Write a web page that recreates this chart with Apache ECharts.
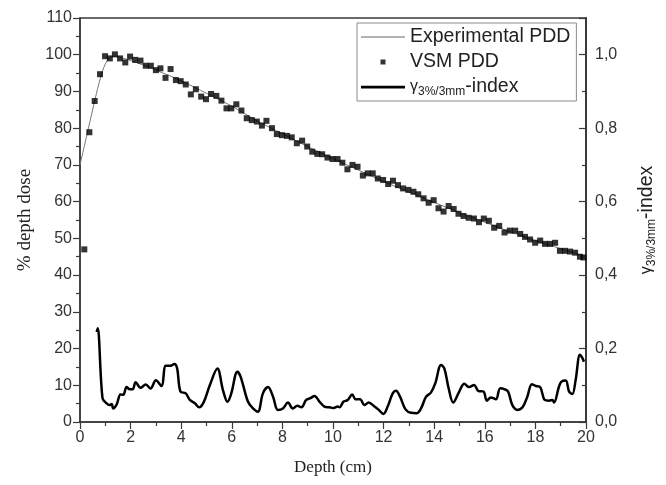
<!DOCTYPE html>
<html>
<head>
<meta charset="utf-8">
<script src="https://cdn.jsdelivr.net/npm/echarts@6/dist/echarts.min.js"></script>
<style>
  html, body { margin: 0; padding: 0; background: #fff; }
  #chart { width: 666px; height: 485px; }
</style>
</head>
<body>
<div id="chart"></div>
<script>
// Experimental PDD (thin line)
const expDepth = [0, 0.2, 0.4, 0.6, 0.8, 1.0, 1.2, 1.4, 1.6, 2.0, 2.5, 3.0, 3.5, 4.0, 5.0, 6.0, 7.0, 8.0, 9.0, 10.0, 11.0, 12.0, 13.0, 14.0, 15.0, 16.0, 17.0, 18.0, 19.0, 20.0]
const expDose = [70, 76, 82, 88, 93.5, 97.5, 99.3, 99.6, 99.3, 98.4, 97.2, 95.8, 94.4, 92.9, 89.5, 86.0, 82.0, 78.5, 75.0, 71.7, 68.6, 65.5, 62.6, 59.8, 57.0, 54.4, 51.8, 49.4, 47.2, 45.0]

// VSM PDD (squares)
const vsmDepth = [0.17, 0.37, 0.58, 0.79, 0.99, 1.18, 1.38, 1.58, 1.79, 1.98, 2.18, 2.39, 2.6, 2.8, 3.0, 3.18, 3.38, 3.58, 3.79, 3.98,
  4.18, 4.38, 4.58, 4.79, 4.98, 5.18, 5.39, 5.59, 5.79, 5.98, 6.18, 6.38, 6.59, 6.79, 6.99, 7.19, 7.37, 7.59, 7.78, 7.98,
  8.18, 8.37, 8.57, 8.78, 8.98, 9.18, 9.38, 9.57, 9.78, 9.98, 10.18, 10.37, 10.57, 10.77, 10.97, 11.18, 11.37, 11.57, 11.77, 11.98,
  12.18, 12.37, 12.57, 12.77, 12.98, 13.18, 13.37, 13.58, 13.78, 13.98, 14.17, 14.37, 14.57, 14.77, 14.96, 15.16, 15.36, 15.57, 15.77, 15.96,
  16.16, 16.37, 16.57, 16.78, 16.99, 17.2, 17.4, 17.59, 17.79, 17.99, 18.19, 18.38, 18.58, 18.78, 18.97, 19.17, 19.37, 19.57, 19.76, 19.9]
const vsmDose = [47.0, 78.9, 87.4, 94.7, 99.6, 99.0, 100.1, 99.0, 97.9, 99.5, 98.6, 98.4, 97.0, 97.0, 95.8, 96.3, 93.7, 96.1, 93.1, 92.8,
  91.9, 89.2, 90.6, 88.6, 87.9, 89.3, 88.8, 87.5, 85.4, 85.4, 86.5, 84.8, 82.7, 82.2, 81.8, 80.7, 82.0, 80.0, 78.4, 78.1,
  77.9, 77.5, 75.9, 76.6, 75.0, 73.6, 73.0, 72.9, 72.0, 71.6, 71.6, 70.6, 68.8, 70.0, 69.5, 67.1, 67.7, 67.7, 66.3, 65.9,
  64.8, 65.7, 64.5, 63.6, 63.2, 62.7, 62.0, 60.9, 59.7, 60.4, 58.2, 57.3, 58.8, 58.0, 56.7, 56.1, 55.6, 55.4, 54.4, 55.4,
  54.8, 52.9, 53.4, 51.6, 52.1, 52.1, 51.2, 50.4, 49.7, 48.8, 49.4, 48.5, 48.5, 48.8, 46.6, 46.6, 46.4, 46.1, 45.0, 44.8]

// gamma 3%/3mm index (thick line, right axis)
const gammaDepth = [0.66, 0.7, 0.89, 1.05, 1.16, 1.25, 1.31, 1.45, 1.6, 1.71, 1.84, 1.97, 2.08, 2.2, 2.39, 2.6, 2.79, 3.0, 3.22, 3.39,
  3.58, 3.73, 3.84, 3.97, 4.18, 4.34, 4.54, 4.71, 4.89, 5.13, 5.43, 5.65, 5.83, 5.98, 6.22, 6.35, 6.64, 6.84, 7.03, 7.23,
  7.43, 7.63, 7.82, 8.02, 8.22, 8.41, 8.59, 8.75, 8.94, 9.11, 9.27, 9.47, 9.66, 9.86, 10.0, 10.19, 10.26, 10.41, 10.58, 10.76,
  10.89, 11.07, 11.24, 11.41, 11.64, 11.81, 11.99, 12.16, 12.36, 12.49, 12.65, 12.86, 13.08, 13.31, 13.48, 13.68, 13.87, 14.04, 14.27, 14.4,
  14.57, 14.75, 14.99, 15.19, 15.38, 15.58, 15.74, 15.95, 16.08, 16.24, 16.44, 16.61, 16.79, 16.92, 17.09, 17.29, 17.49, 17.68, 17.86, 18.02,
  18.19, 18.37, 18.54, 18.67, 18.74, 18.93, 19.03, 19.2, 19.33, 19.46, 19.59, 19.76, 19.86, 19.92]
const gammaVal = [0.245, 0.255, 0.065, 0.051, 0.046, 0.049, 0.037, 0.048, 0.075, 0.074, 0.095, 0.089, 0.089, 0.108, 0.093, 0.102, 0.091, 0.114, 0.098, 0.153,
  0.153, 0.158, 0.146, 0.083, 0.078, 0.060, 0.051, 0.040, 0.054, 0.100, 0.146, 0.087, 0.055, 0.078, 0.137, 0.123, 0.055, 0.037, 0.028, 0.078,
  0.095, 0.069, 0.033, 0.037, 0.053, 0.037, 0.044, 0.040, 0.060, 0.065, 0.071, 0.055, 0.042, 0.040, 0.038, 0.042, 0.040, 0.055, 0.060, 0.075,
  0.062, 0.062, 0.046, 0.053, 0.042, 0.033, 0.022, 0.042, 0.078, 0.085, 0.069, 0.035, 0.025, 0.024, 0.037, 0.069, 0.080, 0.105, 0.155, 0.146,
  0.092, 0.053, 0.083, 0.104, 0.095, 0.101, 0.085, 0.083, 0.058, 0.067, 0.062, 0.092, 0.089, 0.083, 0.046, 0.033, 0.040, 0.069, 0.103, 0.098,
  0.095, 0.060, 0.058, 0.060, 0.053, 0.096, 0.110, 0.113, 0.083, 0.076, 0.114, 0.183, 0.174, 0.164]

const zip = (xs, ys) => xs.map((x, i) => [x, ys[i]])

const sans = 'Liberation Sans, Arial, sans-serif'
const serif = 'Liberation Serif, Times New Roman, serif'
const axisColor = '#3a3a3a'

const gammaRich = {
  g: { fontFamily: sans, fontSize: 16, color: '#222' },
  s: { fontFamily: sans, fontSize: 12, color: '#222', padding: [10, 0, 0, 0] },
  n: { fontFamily: sans, fontSize: 19.5, color: '#222' },
}

const chart = echarts.init(document.getElementById('chart'))

chart.setOption({
  animation: false,
  grid: {
    left: 80,
    right: 79,
    top: 18,
    bottom: 63,
    show: true,
    borderColor: axisColor,
    borderWidth: 1.5,
  },
  legend: {
    orient: 'vertical',
    left: 357,
    top: 23,
    padding: [4, 6, 3, 4],
    itemGap: 5,
    itemWidth: 44,
    itemHeight: 19,
    borderColor: '#8a8a8a',
    borderWidth: 1,
    backgroundColor: '#fff',
    textStyle: {
      fontFamily: sans,
      fontSize: 19.5,
      color: '#222',
      rich: gammaRich,
    },
    formatter: (name) => name === 'gamma' ? '{g|γ}{s|3%/3mm}{n|-index}' : name,
    data: [
      { name: 'Experimental PDD', icon: 'path://M0,0M44,19M0,9h44v1h-44z', itemStyle: { color: '#666' } },
      { name: 'VSM PDD', icon: 'path://M0,0M44,19M19.5,7h5v5h-5z' },
      { name: 'gamma', icon: 'path://M0,0M44,19M0,8.3h44v2.6h-44z', itemStyle: { color: '#000' } },
    ],
  },
  xAxis: {
    type: 'value',
    min: 0,
    max: 20,
    interval: 2,
    name: 'Depth (cm)',
    nameLocation: 'middle',
    nameGap: 37,
    nameTextStyle: { fontFamily: serif, fontSize: 17, color: '#222' },
    axisLine: { lineStyle: { color: axisColor, width: 1.5 } },
    axisTick: { length: 7, lineStyle: { color: axisColor, width: 1.2 } },
    minorTick: { show: true, splitNumber: 2, length: 4, lineStyle: { color: axisColor, width: 1.2 } },
    axisLabel: { fontFamily: sans, fontSize: 16, color: '#333', margin: 8 },
    splitLine: { show: false },
  },
  yAxis: [
    {
      type: 'value',
      min: 0,
      max: 110,
      interval: 10,
      name: '% depth dose',
      nameLocation: 'middle',
      nameGap: 45,
      nameTextStyle: { fontFamily: serif, fontSize: 19, color: '#222' },
      axisLine: { show: true, lineStyle: { color: axisColor, width: 1.5 } },
      axisTick: { length: 7, lineStyle: { color: axisColor, width: 1.2 } },
      minorTick: { show: true, splitNumber: 2, length: 4, lineStyle: { color: axisColor, width: 1.2 } },
      axisLabel: { fontFamily: sans, fontSize: 16, color: '#333', margin: 8 },
      splitLine: { show: false },
    },
    {
      type: 'value',
      position: 'right',
      min: 0,
      max: 1.1,
      interval: 0.2,
      name: '{g|γ}{s|3%/3mm}{n|-index}',
      nameLocation: 'middle',
      nameRotate: 90,
      nameGap: 50,
      nameTextStyle: { color: '#222', rich: gammaRich },
      axisLine: { show: true, lineStyle: { color: axisColor, width: 2 } },
      axisTick: { inside: true, length: 7, lineStyle: { color: axisColor, width: 1.2 } },
      minorTick: { show: true, splitNumber: 2, length: 4, lineStyle: { color: axisColor, width: 1.2 } },
      axisLabel: {
        fontFamily: sans,
        fontSize: 16,
        color: '#333',
        margin: 9,
        showMaxLabel: false,
        formatter: (v) => v.toFixed(1).replace('.', ','),
      },
      splitLine: { show: false },
    },
  ],
  series: [
    {
      name: 'Experimental PDD',
      type: 'line',
      data: zip(expDepth, expDose),
      symbol: 'none',
      smooth: 0.3,
      lineStyle: { color: '#777', width: 1 },
      itemStyle: { color: '#777' },
      z: 2,
    },
    {
      name: 'VSM PDD',
      type: 'scatter',
      data: zip(vsmDepth, vsmDose),
      symbol: 'rect',
      symbolSize: 6,
      itemStyle: { color: '#000' },
      z: 3,
    },
    {
      name: 'gamma',
      type: 'line',
      yAxisIndex: 1,
      data: zip(gammaDepth, gammaVal),
      symbol: 'none',
      smooth: 0.35,
      lineStyle: { color: '#000', width: 2.5 },
      itemStyle: { color: '#000' },
      z: 4,
    },
  ],
})
</script>
</body>
</html>
